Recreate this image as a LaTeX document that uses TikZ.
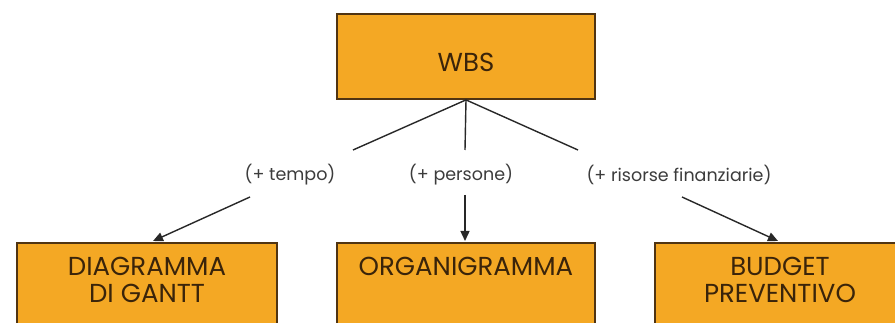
\documentclass[tikz,border=0pt]{standalone}
\usepackage{fontspec}
\setmainfont{Poppins}
\usetikzlibrary{arrows.meta}
\definecolor{boxfill}{RGB}{244,168,36}
\definecolor{boxline}{RGB}{80,52,18}
\definecolor{boxtext}{RGB}{58,36,10}
\definecolor{linecol}{RGB}{40,40,40}
\definecolor{labcol}{RGB}{60,60,60}
\begin{document}
\begin{tikzpicture}[x=1pt,y=-1pt,
  box/.style={draw=boxline,line width=1.8pt,fill=boxfill,rectangle,inner sep=0pt,minimum width=258pt},
  boxlabel/.style={text=boxtext,font=\fontsize{26}{27}\selectfont,align=center,anchor=north,inner sep=0pt},
  edgelabel/.style={text=labcol,font=\fontsize{17.5}{20}\selectfont,inner sep=0pt},
  conn/.style={draw=linecol,line width=1.4pt},
  arr/.style={conn,-{Triangle[length=10pt,width=9pt]}}]
\useasboundingbox (0,0) rectangle (895,323);
\fill[white] (0,0) rectangle (895,323);
% boxes
\node[box,minimum height=85pt] (wbs) at (466,56.5) {};
\node[text=boxtext,font=\fontsize{26}{27}\selectfont,inner sep=0pt] (wbst) at (466,62) {WBS};
\node[box,minimum width=260pt,minimum height=120pt,anchor=north] (gantt) at (147,242) {};
\node[boxlabel] (ganttt) at (147,257) {DIAGRAMMA\\DI GANTT};
\node[box,minimum height=120pt,anchor=north] (org) at (466,242) {};
\node[boxlabel] (orgt) at (466,257) {ORGANIGRAMMA};
\node[box,minimum height=120pt,anchor=north] (bud) at (784,242) {};
\node[boxlabel] (budt) at (780,257) {BUDGET\\PREVENTIVO};
% edge labels
\node[edgelabel] (ltempo) at (290,175) {(+ tempo)};
\node[edgelabel] (lpers) at (461,175) {(+ persone)};
\node[edgelabel] (lris) at (679,175) {(+ risorse finanziarie)};
% connector points
\coordinate (a1) at (353,150);
\coordinate (a2) at (465,150);
\coordinate (a3) at (578,150);
\coordinate (b1) at (250,197);
\coordinate (b2) at (465,195);
\coordinate (b3) at (682,197);
\coordinate (c1) at (153,241);
\coordinate (c2) at (465,241);
\coordinate (c3) at (778,241);
\draw[conn] (wbs.south) -- (a1);
\draw[conn] (wbs.south) -- (a2);
\draw[conn] (wbs.south) -- (a3);
\draw[arr] (b1) -- (c1);
\draw[arr] (b2) -- (c2);
\draw[arr] (b3) -- (c3);
\end{tikzpicture}
\end{document}
